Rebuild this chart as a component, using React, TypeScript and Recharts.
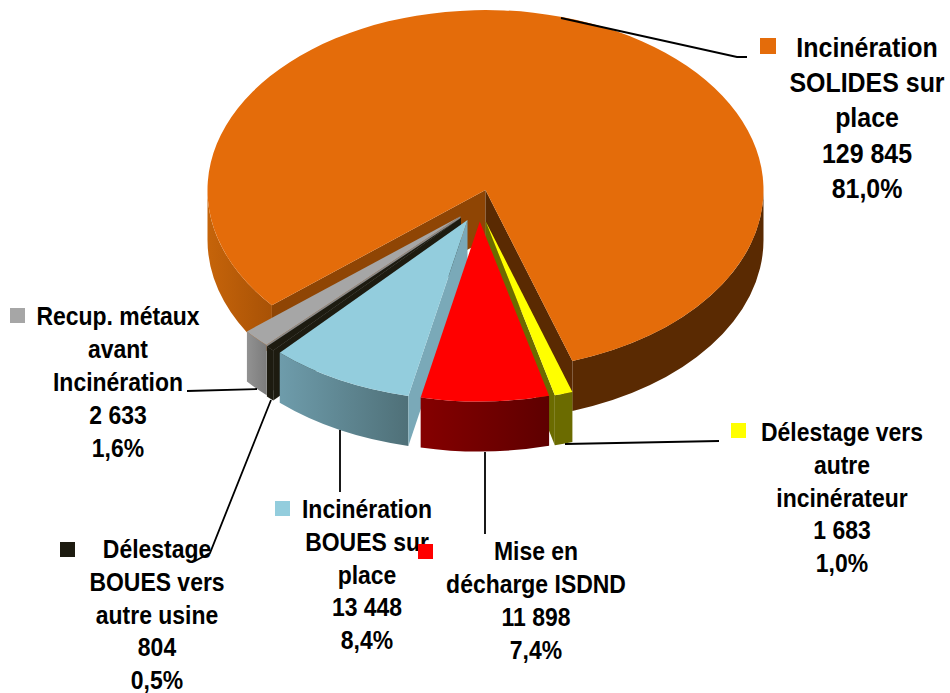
import { PieChart, Pie } from 'recharts'

const NAMES = ['solides', 'delestageVers', 'decharge', 'boues', 'delestageBoues', 'metaux']
const VALUES = [129845, 1683, 11898, 13448, 804, 2633]
const PERCENTS = ['81,0%', '1,0%', '7,4%', '8,4%', '0,5%', '1,6%']
const TITLES = [
  ['Incinération', 'SOLIDES sur', 'place'],
  ['Délestage vers', 'autre', 'incinérateur'],
  ['Mise en', 'décharge ISDND'],
  ['Incinération', 'BOUES sur', 'place'],
  ['Délestage', 'BOUES vers', 'autre usine'],
  ['Recup. métaux', 'avant', 'Incinération'],
]

const rows = NAMES.map((name, i) => ({
  name,
  value: VALUES[i],
  percent: PERCENTS[i],
  title: TITLES[i],
}))

// the exploded slices overlap, so they are split in two pies to get the paint order right
const backRows = rows.slice(0, 2)
const frontRows = rows.slice(2).reverse()
const total = VALUES.reduce((s, v) => s + v, 0)
const START_ANGLE = 219.8
const backSpan = (backRows.reduce((s, r) => s + r.value, 0) / total) * 360
const frontSpan = 360 - backSpan

const CX = 485.5
const CY = 190
const RADIUS = 278
const SQUASH = 180 / 278
const DEPTH = 50

const SLICE_STYLE: Record<string, any> = {
  solides: { dx: 0, dy: 0, top: '#E46C0A', wall: 'url(#orangeWall)', wallRight: '#5A2A02', cutStart: '#8F4504', cutEnd: '#5A2A02' },
  delestageVers: { dx: 0, dy: 31, top: '#FFFF00', wall: '#6B6B00', cutStart: '#6B6B00', cutEnd: '#6B6B00' },
  decharge: { dx: -5.7, dy: 31.5, top: '#FF0000', wall: 'url(#redWall)', cutStart: '#800000', cutEnd: '#600000' },
  boues: { dx: -18, dy: 30, top: '#93CDDD', wall: 'url(#blueWall)', cutStart: '#7AA9B8', cutEnd: '#7AA9B8' },
  delestageBoues: { dx: -24.5, dy: 27.7, top: '#1D1B10', wall: '#1D1B10', cutStart: '#1D1B10', cutEnd: '#1D1B10' },
  metaux: { dx: -25, dy: 26.2, top: '#A6A6A6', wall: 'url(#grayWall)', cutStart: '#8A8A8A', cutEnd: '#8A8A8A' },
}

const LABEL_STYLE: Record<string, any> = {
  solides: {
    x: 867, y: 57, pitch: 35.2, size: 27.7, marker: [760, 38, 16],
    leader: '561,18 737,57 747,57',
  },
  delestageVers: {
    x: 842, y: 441, pitch: 32.8, size: 25.5, marker: [731, 423, 15],
    leader: '565,444 719,441',
  },
  decharge: {
    x: 536, y: 560, pitch: 33, size: 25.5, marker: [418, 544, 15],
    leader: '485,452 485,534',
  },
  boues: {
    x: 367, y: 518, pitch: 32.8, size: 25.5, marker: [275, 501, 15],
    leader: '340,430 340,492',
  },
  delestageBoues: {
    x: 157, y: 558, pitch: 32.8, size: 25.5, marker: [60, 542, 15],
    leader: '271,400 210,553 195,561',
  },
  metaux: {
    x: 118, y: 325, pitch: 33, size: 25.5, marker: [10, 308, 15],
    leader: '257,389 187,391',
  },
}

const rad = (a: number) => (a * Math.PI) / 180

function Slice3D(props: any) {
  const { startAngle, endAngle, name } = props
  const st = SLICE_STYLE[name]
  const hi = Math.max(startAngle, endAngle)
  const lo = Math.min(startAngle, endAngle)
  const rx = props.outerRadius
  const ry = rx * SQUASH
  const ax = props.cx + st.dx
  const ay = props.cy + st.dy
  const pt = (a: number, down = 0) => `${ax + rx * Math.cos(rad(a))} ${ay - ry * Math.sin(rad(a)) + down}`
  const arc = (large: number, sweep: number, to: string) => `A ${rx} ${ry} 0 ${large} ${sweep} ${to}`

  const top = `M ${ax} ${ay} L ${pt(hi)} ${arc(hi - lo > 180 ? 1 : 0, 1, pt(lo))} Z`
  const cut = (a: number) =>
    `M ${ax} ${ay} L ${pt(a)} L ${pt(a, DEPTH)} L ${ax} ${ay + DEPTH} Z`

  // outer wall, only the part in the lower half of the ellipse shows
  const walls: { d: string; right: boolean }[] = []
  for (const [from, to] of [[-180, 0], [180, 360], [540, 720]]) {
    const a1 = Math.min(hi, to)
    const a2 = Math.max(lo, from)
    if (a1 <= a2) continue
    walls.push({
      d: `M ${pt(a1)} ${arc(0, 1, pt(a2))} L ${pt(a2, DEPTH)} ${arc(0, 0, pt(a1, DEPTH))} Z`,
      right: Math.cos(rad((a1 + a2) / 2)) > 0,
    })
  }

  return (
    <g>
      {walls.map((w, i) => (
        <path key={i} d={w.d} fill={w.right && st.wallRight ? st.wallRight : st.wall} />
      ))}
      {Math.cos(rad(hi)) < 0 && <path d={cut(hi)} fill={st.cutStart} />}
      {Math.cos(rad(lo)) > 0 && <path d={cut(lo)} fill={st.cutEnd} />}
      <path d={top} fill={st.top} />
    </g>
  )
}

function SliceLabel(props: any) {
  const { name, payload } = props
  const st = LABEL_STYLE[name]
  const row = payload ?? props
  const lines = [...row.title, row.value.toLocaleString('fr-FR').replace(/\s/g, ' '), row.percent]
  const [mx, my, ms] = st.marker
  return (
    <g>
      <polyline points={st.leader} fill="none" stroke="#000" strokeWidth={1.8} />
      {lines.map((line: string, i: number) => (
        <text
          key={i}
          transform={`translate(${st.x} ${st.y + i * st.pitch}) scale(0.9 1)`}
          textAnchor="middle"
          fontFamily="'Liberation Sans', Arial, sans-serif"
          fontWeight="bold"
          fontSize={st.size}
          fill="#000"
        >
          {line}
        </text>
      ))}
      <rect x={mx} y={my} width={ms} height={ms} fill={SLICE_STYLE[name].top} />
    </g>
  )
}

const renderLabel = (props: any) => <SliceLabel {...props} />
const renderSlice = (props: any) => <Slice3D {...props} />

export default function App() {
  return (
    <div style={{ position: 'absolute', left: 0, top: 0, width: 950, height: 693, background: '#fff' }}>
      <PieChart width={950} height={693} margin={{ top: 0, right: 0, bottom: 0, left: 0 }}>
        <defs>
          <linearGradient id="orangeWall" gradientUnits="userSpaceOnUse" x1="207" y1="0" x2="272" y2="0">
            <stop offset="0%" stopColor="#C6640A" />
            <stop offset="100%" stopColor="#A85206" />
          </linearGradient>
          <linearGradient id="redWall" x1="0" y1="0" x2="1" y2="0">
            <stop offset="0%" stopColor="#850000" />
            <stop offset="100%" stopColor="#5E0000" />
          </linearGradient>
          <linearGradient id="blueWall" x1="0" y1="0" x2="1" y2="0">
            <stop offset="0%" stopColor="#6E9CAB" />
            <stop offset="100%" stopColor="#4F7078" />
          </linearGradient>
          <linearGradient id="grayWall" x1="0" y1="0" x2="1" y2="0">
            <stop offset="0%" stopColor="#929292" />
            <stop offset="100%" stopColor="#7C7C7C" />
          </linearGradient>
        </defs>
        <Pie
          data={backRows}
          dataKey="value"
          nameKey="name"
          cx={CX}
          cy={CY}
          outerRadius={RADIUS}
          startAngle={START_ANGLE}
          endAngle={START_ANGLE - backSpan}
          stroke="none"
          shape={renderSlice}
          label={renderLabel}
          labelLine={false}
          isAnimationActive={false}
        />
        <Pie
          data={frontRows}
          dataKey="value"
          nameKey="name"
          cx={CX}
          cy={CY}
          outerRadius={RADIUS}
          startAngle={START_ANGLE}
          endAngle={START_ANGLE + frontSpan}
          stroke="none"
          shape={renderSlice}
          label={renderLabel}
          labelLine={false}
          isAnimationActive={false}
        />
      </PieChart>
    </div>
  )
}
